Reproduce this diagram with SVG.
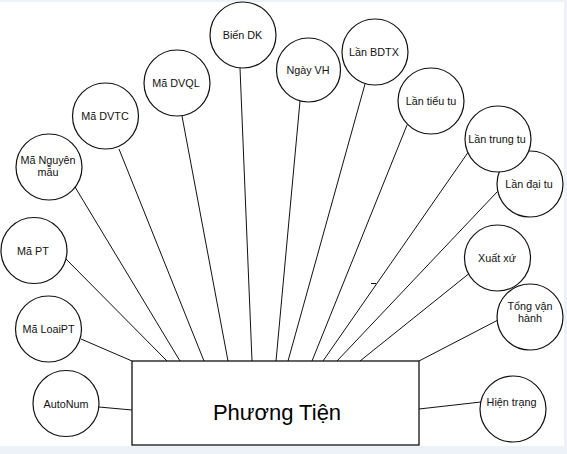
<svg xmlns="http://www.w3.org/2000/svg" width="567" height="454" viewBox="0 0 567 454">
<style>
.attr circle{fill:#fff;stroke:#111;stroke-width:1.2}
.attr text{font-family:"Liberation Sans",Arial,sans-serif;font-size:10.8px;fill:#111;text-anchor:middle}
#connectors line{stroke:#111;stroke-width:1}
#entity rect{fill:#fff;stroke:#111;stroke-width:1.3}
#entity text{font-family:"Liberation Sans",Arial,sans-serif;font-size:22px;fill:#000;text-anchor:middle}
</style>
<rect x="0" y="0" width="567" height="454" fill="#edf1f8"/>
<rect x="0" y="2" width="564" height="444" fill="#fff"/>
<g id="connectors">
<line x1="99" y1="407" x2="132" y2="410"/>
<line x1="81" y1="339" x2="132" y2="361"/>
<line x1="66" y1="259" x2="167" y2="361"/>
<line x1="75" y1="187" x2="180" y2="361"/>
<line x1="119" y1="149" x2="204" y2="361"/>
<line x1="182" y1="116" x2="228" y2="361"/>
<line x1="240" y1="68" x2="252" y2="361"/>
<line x1="300" y1="101" x2="276" y2="361"/>
<line x1="365" y1="84" x2="288" y2="361"/>
<line x1="407" y1="125" x2="312" y2="361"/>
<line x1="469" y1="151" x2="323" y2="361"/>
<line x1="497" y1="192" x2="337" y2="361"/>
<line x1="471" y1="272" x2="360" y2="361"/>
<line x1="498" y1="320" x2="419" y2="361"/>
<line x1="481" y1="402" x2="419" y2="409"/>
<line x1="371" y1="283.5" x2="376" y2="283.5"/>
</g>
<g id="entity">
<rect x="132" y="361" width="287" height="84"/>
<text x="277" y="420">Phương Tiện</text>
</g>
<g id="autonum" class="attr"><circle cx="66" cy="403.5" r="33"/><text x="66" y="407.5">AutoNum</text></g>
<g id="ma-loaipt" class="attr"><circle cx="48.5" cy="329" r="33"/><text x="48.5" y="333">Mã LoaiPT</text></g>
<g id="ma-pt" class="attr"><circle cx="34" cy="250.5" r="33"/><text x="33" y="254.5">Mã PT</text></g>
<g id="ma-nguyen-mau" class="attr"><circle cx="49" cy="167" r="33"/><text x="48" y="163.5">Mã Nguyên</text><text x="48" y="176">mẫu</text></g>
<g id="ma-dvtc" class="attr"><circle cx="105.5" cy="116" r="33"/><text x="105" y="120">Mã DVTC</text></g>
<g id="ma-dvql" class="attr"><circle cx="177" cy="83" r="33"/><text x="176" y="87">Mã DVQL</text></g>
<g id="bien-dk" class="attr"><circle cx="243" cy="35" r="33"/><text x="242.5" y="38.5">Biến DK</text></g>
<g id="ngay-vh" class="attr"><circle cx="308.5" cy="70" r="32"/><text x="308" y="74">Ngày VH</text></g>
<g id="lan-bdtx" class="attr"><circle cx="375" cy="52" r="33"/><text x="374" y="56">Lần BDTX</text></g>
<g id="lan-tieu-tu" class="attr"><circle cx="431" cy="101" r="33"/><text x="431" y="105">Lần tiểu tu</text></g>
<g id="lan-dai-tu" class="attr"><circle cx="530" cy="184" r="33"/><text x="529" y="188">Lần đại tu</text></g>
<g id="lan-trung-tu" class="attr"><circle cx="498" cy="139" r="33"/><text x="497" y="143">Lần trung tu</text></g>
<g id="xuat-xu" class="attr"><circle cx="497.5" cy="258" r="33"/><text x="497" y="262">Xuất xứ</text></g>
<g id="tong-van-hanh" class="attr"><circle cx="530" cy="317" r="33"/><text x="530" y="310">Tổng vận</text><text x="530" y="322">hành</text></g>
<g id="hien-trang" class="attr"><circle cx="513" cy="409" r="33"/><text x="511.5" y="406">Hiện trạng</text></g>
</svg>
